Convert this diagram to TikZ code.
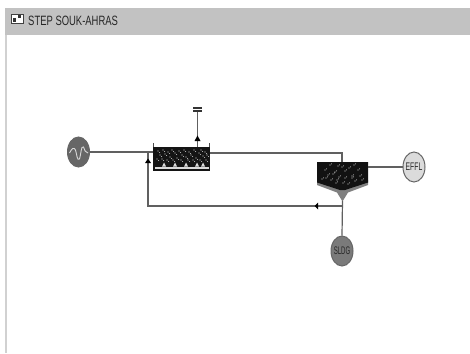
\documentclass[tikz,border=0pt]{standalone}
\usepackage{fontspec}
\setmainfont{Liberation Sans}
\usetikzlibrary{arrows.meta,shapes.geometric}
\definecolor{barc}{HTML}{C2C2C2}
\definecolor{linec}{HTML}{606060}
\tikzset{
  x=1pt,y=-1pt,
  pipe/.style={draw=linec,line width=1.2pt},
  unit/.style={ellipse,draw=black!60,line width=1pt,minimum width=22pt,minimum height=30pt,inner sep=0pt},
  lbl/.style={font=\fontsize{11}{12}\selectfont,text=black!85},
  flow/.style={fill=black,draw=none},
  speck/.style={fill=white!80!black,draw=none},
}
\begin{document}
\begin{tikzpicture}
\useasboundingbox (0,0) rectangle (470,353);
\fill[white] (0,0) rectangle (470,353);
\fill[barc] (5,8) rectangle (470,35);
\fill[black!18] (5,35) rectangle (6.5,353);
% title
\node[anchor=west,inner sep=0pt,font=\fontsize{13.5}{14}\selectfont,text=black!85] (title) at (28,21) {\scalebox{0.70}[1]{STEP SOUK-AHRAS}};
\node[draw=black!75,line width=0.8pt,fill=white,minimum width=12pt,minimum height=9pt,inner sep=0pt] (icon) at (17,18.5) {};
\fill[black!80] (12.5,18) rectangle (16,22.5);
\fill[black!80] (17.5,15) rectangle (21,18.5);
% units
\node[unit,fill=black!60] (src) at (78.5,152) {};
\draw[white!85!black,line width=0.9pt] (69.5,153) .. controls (72,148) and (74,147) .. (75.5,150) .. controls (77,155) and (77,161) .. (79.5,159) .. controls (81,155) and (81,145) .. (83.5,147) .. controls (85,150) and (85,153) .. (88,153);
\node[rectangle,fill=black!92,minimum width=57pt,minimum height=24pt,inner sep=0pt] (tank) at (181.5,159) {};
\draw[black!70,line width=0.8pt] (153.5,147) -- (153.5,143) (209.5,147) -- (209.5,143);
\fill[white!85!black] (154.5,166.5) rectangle (208.5,169);
\foreach \xx in {164,175,186,197,203}{\fill[white!85!black] (\xx-2,166.5) -- (\xx,162.5) -- (\xx+2,166.5) -- cycle;}
\foreach \xx/\yy in {158/151,160/155,163/150,165/154,168/152,170/157,172/150,175/153,177/158,179/151,182/155,184/150,186/157,189/152,191/155,194/150,196/158,199/153,201/150,203/156,205/152,207/155,157/159,162/159,167/160,173/160,181/160,188/160,193/160,200/160,206/160}{
  \fill[speck] (\xx,\yy) circle (0.7);
  \fill[speck] (\xx+1.5,\yy+1.5) circle (0.5);
}
\node[inner sep=0pt,minimum width=9pt,minimum height=5.5pt] (gas) at (197.5,109.5) {};
\fill[black!80] (193,107) rectangle (202,109);
\fill[black!80] (193,110) rectangle (202,112);
% clarifier
\coordinate (clarN) at (342,162);
\coordinate (clarS) at (342.5,201);
\fill[black!50] (317,185) -- (337,192.5) -- (342.5,201.5) -- (348,192.5) -- (368,185) -- (368,180) -- (317,180) -- cycle;
\fill[black!93] (317,162) -- (368,162) -- (368,182.5) -- (345,190) -- (340,190) -- (317,182.5) -- cycle;
\node[inner sep=0pt,minimum width=51pt,minimum height=20pt] (clar) at (342.5,172) {};
\foreach \xx/\yy in {325/170,326/178,330/165,331/180,335/172,336/183,339/177,342/167,345/171,343/183,349/168,352/178,348/184,354/165,358/170,360/176,352/176,355/181,362/180,338/166,333/174,345/178,328/175,337/180,322/179}{
  \fill[speck] (\xx,\yy) circle (0.7);
  \fill[speck] (\xx+1.5,\yy-1.2) circle (0.5);
}
\node[unit,fill=black!14] (effl) at (414,167) {};
\node[lbl] (efflt) at (414,167) {\scalebox{0.62}[1]{EFFL}};
\node[unit,fill=black!52] (sldg) at (342,251) {};
\node[lbl] (sldgt) at (342,251) {\scalebox{0.55}[1]{SLDG}};
% connectors
\coordinate (rin) at (148,152);
\coordinate (rcorner) at (148,206);
\coordinate (rjunc) at (342.5,206);
\coordinate (tout) at (210,153);
\coordinate (clarcorner) at (342,153);
\coordinate (tanktop) at (197.5,147);
\coordinate (effin) at (368,167);
\draw[pipe] (src.east) |- (rin) -- (153,152);
\draw[pipe] (tout) -- (clarcorner) -- (clarN);
\draw[pipe] (tanktop) -- (gas.south);
\draw[pipe] (effin) -- (effl.west);
\draw[pipe] (clarS) -- (sldg.north);
\draw[pipe] (rjunc) -- (rcorner) -- (rin);
\fill[flow] (194.5,141) -- (197.5,135.5) -- (200.5,141) -- cycle;
\fill[flow] (145,163) -- (148,158.5) -- (151,163) -- cycle;
\fill[flow] (314.5,206) -- (318,202.5) -- (318,209.5) -- cycle;
\end{tikzpicture}
\end{document}
